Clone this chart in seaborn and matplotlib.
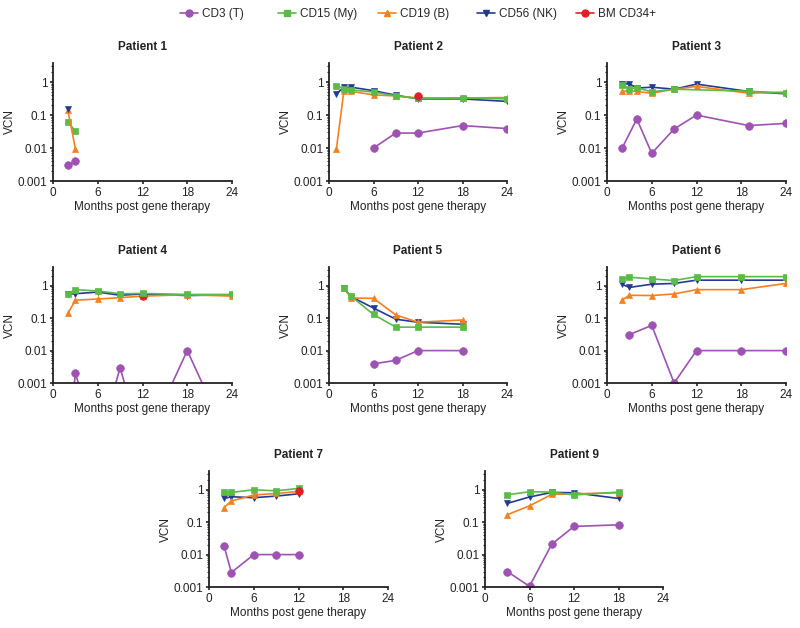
import numpy as np
import pandas as pd
import matplotlib
matplotlib.use("Agg")
import matplotlib.pyplot as plt
from matplotlib.lines import Line2D
from matplotlib.ticker import LogLocator, FixedLocator, NullFormatter
import seaborn as sns

sns.set_theme(style="ticks")
plt.rcParams['font.family'] = ['Liberation Sans', 'DejaVu Sans']

cells = ["CD3 (T)", "CD15 (My)", "CD19 (B)", "CD56 (NK)", "BM CD34+"]
colors = {"CD3 (T)": "#9E52B2", "CD15 (My)": "#5BBB47", "CD19 (B)": "#F5801F",
          "CD56 (NK)": "#243A91", "BM CD34+": "#E41E26"}
markers = {"CD3 (T)": "o", "CD15 (My)": "s", "CD19 (B)": "^", "CD56 (NK)": "v", "BM CD34+": "o"}

# Patient 1
p1_months = {"CD3 (T)": [2, 3], "CD15 (My)": [2, 3], "CD19 (B)": [2, 3], "CD56 (NK)": [2]}
p1_vcn = {"CD3 (T)": [0.003, 0.004], "CD15 (My)": [0.063, 0.032],
          "CD19 (B)": [0.14, 0.0095], "CD56 (NK)": [0.15]}
# Patient 2
p2_months = {"CD3 (T)": [6, 9, 12, 18, 24],
             "CD56 (NK)": [1, 2, 3, 6, 9, 12, 18, 24],
             "CD19 (B)": [1, 2, 3, 6, 9, 12, 18, 24],
             "CD15 (My)": [1, 2, 3, 6, 9, 12, 18, 24],
             "BM CD34+": [12]}
p2_vcn = {"CD3 (T)": [0.01, 0.0285, 0.0285, 0.048, 0.039],
          "CD56 (NK)": [0.44, 0.70, 0.70, 0.55, 0.40, 0.31, 0.31, 0.26],
          "CD19 (B)": [0.0095, 0.52, 0.52, 0.41, 0.38, 0.33, 0.33, 0.34],
          "CD15 (My)": [0.77, 0.63, 0.58, 0.50, 0.38, 0.32, 0.33, 0.31],
          "BM CD34+": [0.37]}
# Patient 3
p3_months = {"CD3 (T)": [2, 4, 6, 9, 12, 19, 24],
             "CD56 (NK)": [2, 3, 4, 6, 9, 12, 19, 24],
             "CD19 (B)": [2, 3, 4, 6, 9, 12, 19, 24],
             "CD15 (My)": [2, 3, 4, 6, 9, 19, 24]}
p3_vcn = {"CD3 (T)": [0.0097, 0.076, 0.0069, 0.038, 0.10, 0.048, 0.056],
          "CD56 (NK)": [0.87, 0.89, 0.66, 0.70, 0.61, 0.87, 0.52, 0.44],
          "CD19 (B)": [0.52, 0.55, 0.52, 0.46, 0.61, 0.74, 0.46, 0.50],
          "CD15 (My)": [0.83, 0.63, 0.67, 0.51, 0.61, 0.53, 0.46]}
# Patient 4
p4_months = {"CD3 (T)": [2, 3, 6, 9, 12, 18, 24],
             "CD56 (NK)": [2, 3, 6, 9, 12, 18, 24],
             "CD19 (B)": [2, 3, 6, 9, 12, 18, 24],
             "BM CD34+": [12],
             "CD15 (My)": [2, 3, 6, 9, 12, 18, 24]}
p4_vcn = {"CD3 (T)": [1e-5, 0.002, 1e-5, 0.003, 1e-5, 0.01, 1e-5],
          "CD56 (NK)": [0.55, 0.57, 0.64, 0.51, 0.56, 0.50, 0.53],
          "CD19 (B)": [0.14, 0.36, 0.39, 0.43, 0.48, 0.53, 0.48],
          "BM CD34+": [0.48],
          "CD15 (My)": [0.56, 0.76, 0.69, 0.57, 0.58, 0.54, 0.54]}
# Patient 5
p5_months = {"CD3 (T)": [6, 9, 12, 18],
             "CD56 (NK)": [2, 3, 6, 9, 12, 18],
             "CD19 (B)": [2, 3, 6, 9, 12, 18],
             "CD15 (My)": [2, 3, 6, 9, 12, 18]}
p5_vcn = {"CD3 (T)": [0.0039, 0.005, 0.01, 0.01],
          "CD56 (NK)": [0.83, 0.46, 0.206, 0.093, 0.075, 0.065],
          "CD19 (B)": [0.83, 0.42, 0.41, 0.126, 0.075, 0.088],
          "CD15 (My)": [0.83, 0.47, 0.13, 0.053, 0.053, 0.053]}
# Patient 6
p6_months = {"CD3 (T)": [3, 6, 9, 12, 18, 24],
             "CD56 (NK)": [2, 3, 6, 9, 12, 18, 24],
             "CD19 (B)": [2, 3, 6, 9, 12, 18, 24],
             "CD15 (My)": [2, 3, 6, 9, 12, 18, 24]}
p6_vcn = {"CD3 (T)": [0.031, 0.06, 0.001, 0.01, 0.01, 0.01],
          "CD56 (NK)": [1.12, 0.89, 1.12, 1.18, 1.49, 1.49, 1.49],
          "CD19 (B)": [0.36, 0.51, 0.50, 0.56, 0.76, 0.76, 1.18],
          "CD15 (My)": [1.67, 1.84, 1.63, 1.45, 1.92, 1.92, 1.92]}
# Patient 7
p7_months = {"CD3 (T)": [2, 3, 6, 9, 12],
             "CD56 (NK)": [2, 3, 6, 9, 12],
             "CD19 (B)": [2, 3, 6, 9, 12],
             "CD15 (My)": [2, 3, 6, 9, 12],
             "BM CD34+": [12]}
p7_vcn = {"CD3 (T)": [0.019, 0.0028, 0.01, 0.01, 0.01],
          "CD56 (NK)": [0.54, 0.61, 0.57, 0.64, 0.75],
          "CD19 (B)": [0.28, 0.45, 0.69, 0.77, 0.89],
          "CD15 (My)": [0.83, 0.83, 1.0, 0.93, 1.1],
          "BM CD34+": [0.95]}
# Patient 9
p9_months = {"CD3 (T)": [3, 6, 9, 12, 18],
             "CD56 (NK)": [3, 6, 9, 12, 18],
             "CD19 (B)": [3, 6, 9, 12, 18],
             "CD15 (My)": [3, 6, 9, 12, 18]}
p9_vcn = {"CD3 (T)": [0.003, 0.00105, 0.021, 0.074, 0.083],
          "CD56 (NK)": [0.38, 0.60, 0.83, 0.81, 0.54],
          "CD19 (B)": [0.17, 0.32, 0.72, 0.75, 0.81],
          "CD15 (My)": [0.70, 0.87, 0.85, 0.69, 0.85]}

patients = ["Patient 1", "Patient 2", "Patient 3", "Patient 4", "Patient 5",
            "Patient 6", "Patient 7", "Patient 9"]
months_all = [p1_months, p2_months, p3_months, p4_months, p5_months, p6_months, p7_months, p9_months]
vcn_all = [p1_vcn, p2_vcn, p3_vcn, p4_vcn, p5_vcn, p6_vcn, p7_vcn, p9_vcn]
x_ticks = [0, 6, 12, 18, 24]
y_ticks = [0.001, 0.01, 0.1, 1]
y_ticklabels = ["0.001", "0.01", "0.1", "1"]

fig = plt.figure(figsize=(8.0, 6.28), dpi=100)
W, H = 800, 628
# axes rects in pixel coords (left, top, right, bottom)
rects = [(53, 63, 232, 181), (329, 63, 507, 181), (607, 63, 786, 181),
         (53, 267, 232, 383), (329, 267, 507, 383), (607, 267, 786, 383),
         (209, 471, 388, 587), (485, 471, 663, 587)]

fs = 8.5
for name, mdict, vdict, (l, t, r, b) in zip(patients, months_all, vcn_all, rects):
    ax = fig.add_axes([l / W, 1 - b / H, (r - l) / W, (b - t) / H])
    rows = []
    for cell in mdict:
        for m, v in zip(mdict[cell], vdict[cell]):
            rows.append({"cell": cell, "month": m, "vcn": v})
    df = pd.DataFrame(rows)
    for cell in mdict:
        sub = df[df["cell"] == cell]
        sns.lineplot(data=sub, x="month", y="vcn", ax=ax, color=colors[cell],
                     marker=markers[cell], markersize=5 if markers[cell] != "o" else 5.5,
                     markeredgecolor=colors[cell], markeredgewidth=0.5,
                     linewidth=1.2, estimator=None, sort=False, legend=False)
    ax.set_yscale("log")
    ax.set_ylim(0.001, 3.8)
    ax.set_xlim(0, 24)
    ax.set_xticks(x_ticks)
    ax.set_xticklabels([str(x) for x in x_ticks], fontsize=fs)
    ax.yaxis.set_major_locator(FixedLocator(y_ticks))
    ax.set_yticklabels(y_ticklabels, fontsize=fs)
    ax.yaxis.set_minor_locator(LogLocator(base=10, subs=np.arange(2, 10), numticks=20))
    ax.yaxis.set_minor_formatter(NullFormatter())
    ax.tick_params(axis="both", which="major", length=2.5, width=1.2, color="#222222", pad=1.5,
                   labelcolor="#222222")
    ax.tick_params(axis="y", which="minor", length=1.8, width=0.8, color="#222222")
    for s in ["left", "bottom"]:
        ax.spines[s].set_linewidth(1.3)
        ax.spines[s].set_color("#222222")
    sns.despine(ax=ax)
    ax.set_xlabel("Months post gene therapy", fontsize=fs, color="#222222", labelpad=2)
    ax.set_ylabel("VCN", fontsize=fs, color="#222222", labelpad=1)
    ax.set_title(name, fontsize=fs, fontweight="bold", color="#222222", pad=9)

# legend: one entry per fixed column position
leg_x = [180, 278, 378, 477, 576]
for c, xp in zip(cells, leg_x):
    h = Line2D([0], [0], color=colors[c], marker=markers[c], markersize=5,
               markeredgecolor=colors[c], linewidth=1.2)
    fig.legend([h], [c], loc="center left", bbox_to_anchor=(xp / W, 1 - 14 / H),
               frameon=False, fontsize=fs, handlelength=1.5, handletextpad=0.4,
               borderpad=0, borderaxespad=0)

fig.savefig("out.png", dpi=100)
